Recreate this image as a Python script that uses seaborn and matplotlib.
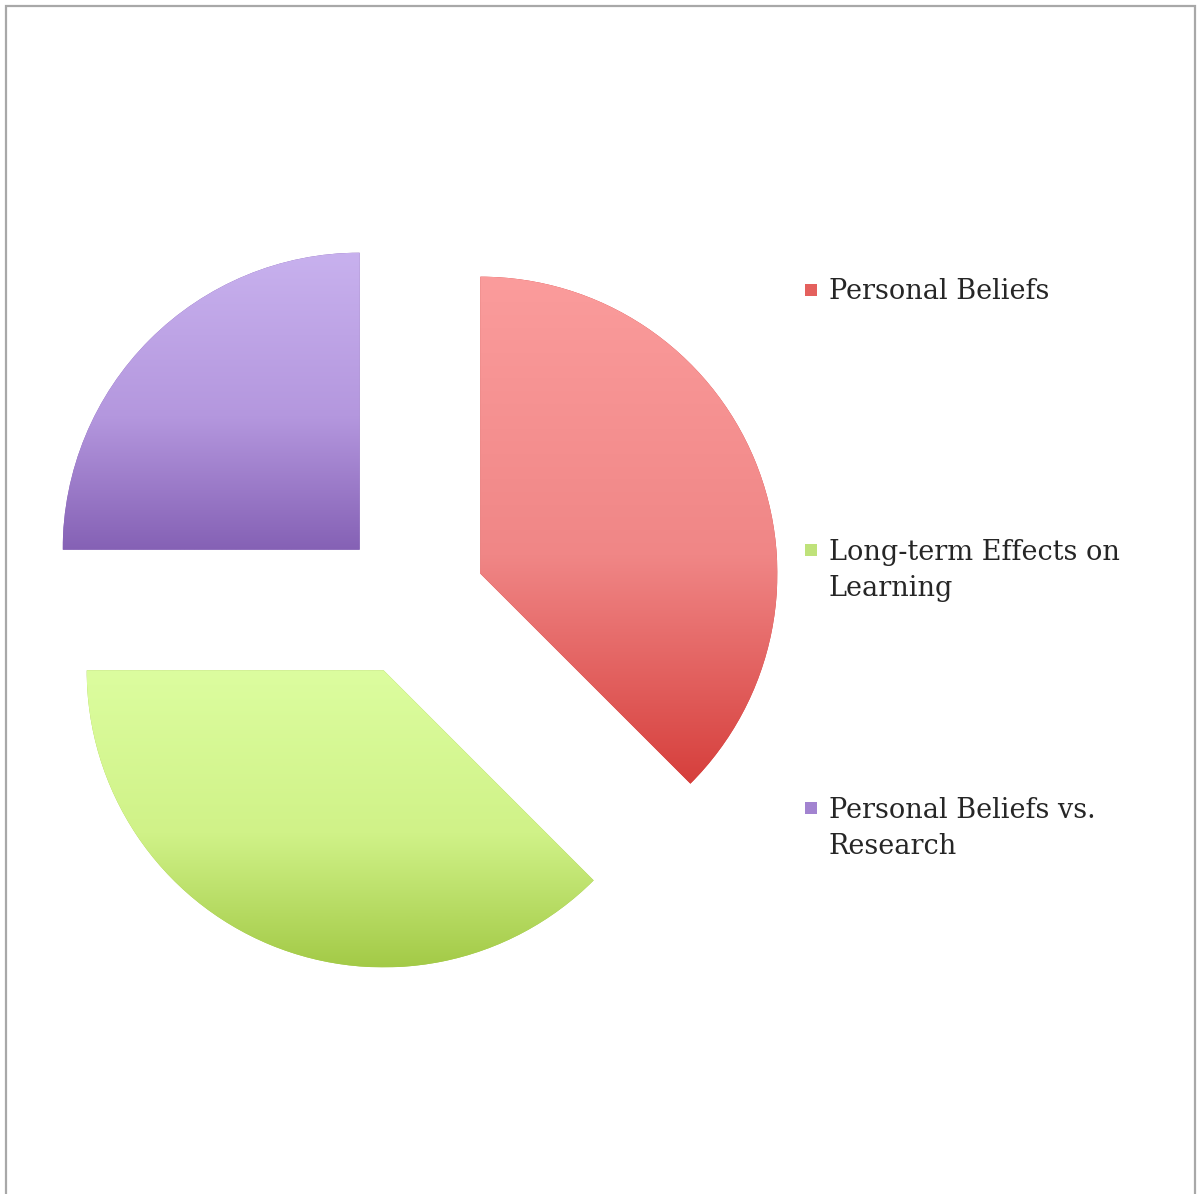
import numpy as np
import matplotlib as mpl
mpl.use('Agg')
import matplotlib.pyplot as plt
from matplotlib.colors import LinearSegmentedColormap
from matplotlib.patches import Rectangle
import seaborn as sns

# slices, clockwise from 12 o'clock
labels = ['Personal Beliefs', 'Long-term Effects on\nLearning', 'Personal Beliefs vs.\nResearch']
shares = [37.5, 37.5, 25.0]
top_colors = ['#fb9c9c', '#dcfd9f', '#c8b1ee']
mid_colors = ['#f08686', '#d0f288', '#b497de']
bottom_colors = ['#d63f3c', '#a3ca47', '#8561b5']
marker_colors = ['#e4605d', '#bfe27a', '#a283d0']

W, H = 1197, 1194

sns.set_theme(style='white')
plt.rcParams['font.family'] = ['DejaVu Serif', 'Liberation Serif']

fig = plt.figure(figsize=(W / 100, H / 100), dpi=100)
ax = fig.add_axes([0, 0, 1, 1])

wedges, _ = ax.pie(shares, startangle=90, counterclock=False, radius=297,
                   center=(412, H - 602), explode=[74] * len(shares),
                   colors=bottom_colors, wedgeprops=dict(linewidth=0))

# vertical gradient inside each wedge
for w, c0, c1, c2 in zip(wedges, bottom_colors, mid_colors, top_colors):
    cx, cy = w.center
    t = np.radians(np.linspace(w.theta1, w.theta2, 200))
    xs = np.r_[cx, cx + w.r * np.cos(t)]
    ys = np.r_[cy, cy + w.r * np.sin(t)]
    cmap = LinearSegmentedColormap.from_list('g', [(0, c0), (0.45, c1), (1, c2)])
    grad = np.linspace(0, 1, 256)[:, None]
    im = ax.imshow(grad, cmap=cmap, origin='lower', aspect='auto',
                   extent=[xs.min(), xs.max(), ys.min(), ys.max()],
                   interpolation='bilinear', zorder=2)
    im.set_clip_path(w)

ax.set_xlim(0, W)
ax.set_ylim(0, H)
ax.set_aspect('auto')
ax.axis('off')

# legend, drawn by hand so the marker sits on the first line
legend_y = [299, 559, 817]
line_h = 37
for lab, col, y in zip(labels, marker_colors, legend_y):
    n = lab.count('\n')
    ax.add_patch(Rectangle((805, H - y + 3), 12, 12, color=col, lw=0))
    ax.text(829, H - y - n * line_h, lab, ha='left', va='baseline',
            fontsize=19.5, color='#262626', linespacing=1.44)

# outer frame
fig.add_artist(Rectangle((6 / W, -0.01), (1195 - 6) / W, (H - 6) / H + 0.01,
                         transform=fig.transFigure, fill=False,
                         ec='#a8a8a8', lw=1.6))

fig.savefig('out.png', dpi=100)
